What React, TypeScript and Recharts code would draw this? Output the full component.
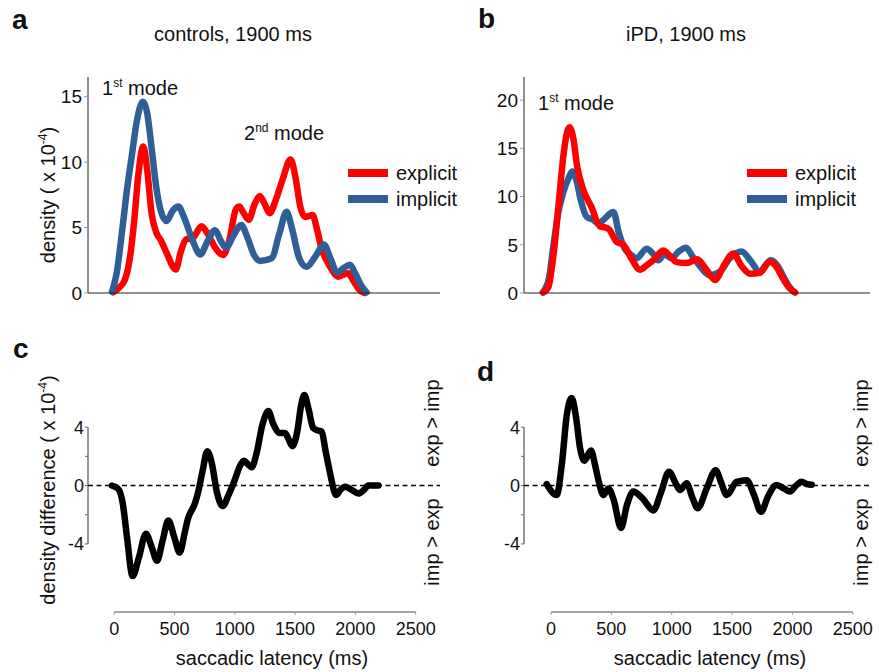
// density curves (a, b) and their differences (c, d) for saccadic latency

import { LineChart, Line, XAxis, YAxis, ReferenceLine, Legend } from "recharts";

const FONT = '"Liberation Sans", Arial, Helvetica, sans-serif';
const RED = "#ff0000";
const BLUE = "#2e5f99";

const msTicks = [0, 500, 1000, 1500, 2000, 2500];
const densTicksA = [0, 5, 10, 15];
const densTicksB = [0, 5, 10, 15, 20];
const diffTicks = [-4, -2, 0, 2, 4];

// a: controls, 1900 ms
const ctrlExpMs = [10, 60, 110, 150, 190, 225, 268, 300, 340, 380, 420, 470, 545, 590, 635, 690, 765, 820, 880, 950, 1000, 1060, 1090, 1120, 1170, 1220, 1265, 1300, 1350, 1400, 1460, 1527, 1570, 1610, 1650, 1715, 1755, 1792, 1860, 1934, 1975, 2020, 2060, 2110, 2160];
const ctrlExpVal = [0.05, 0.4, 1.0, 2.5, 5.5, 9, 11.2, 9.5, 6, 4.6, 4.0, 3.0, 1.8, 3.2, 4.1, 4.2, 5.1, 4.5, 3.5, 2.9, 3.9, 6.4, 6.6, 6.2, 5.6, 6.8, 7.4, 6.9, 6.1, 7.1, 8.7, 10.2, 8.8, 6.6, 5.8, 5.95, 4.8, 3.4, 2.1, 1.25, 1.4, 1.5, 1.0, 0.3, 0];
const ctrlImpMs = [0, 40, 90, 130, 170, 210, 265, 300, 340, 380, 420, 467, 520, 567, 620, 690, 755, 820, 880, 930, 975, 1040, 1105, 1160, 1215, 1265, 1365, 1430, 1493, 1540, 1600, 1664, 1740, 1812, 1870, 1926, 1980, 2034, 2080, 2130, 2177];
const ctrlImpVal = [0.1, 1.5, 5.0, 8.0, 10.5, 13, 14.6, 13.8, 11, 8, 6.2, 5.5, 6.3, 6.6, 5.7, 4.0, 2.95, 4.0, 4.8, 4.0, 3.45, 4.4, 5.2, 4.2, 2.9, 2.45, 2.65, 4.5, 6.2, 4.9, 2.7, 2.0, 2.8, 3.7, 2.6, 1.55, 1.9, 2.15, 1.5, 0.6, 0.05];

// b: iPD, 1900 ms
const ipdExpMs = [0, 45, 90, 145, 175, 225, 260, 290, 345, 415, 488, 530, 565, 630, 687, 760, 830, 890, 944, 1030, 1090, 1144, 1230, 1320, 1400, 1473, 1550, 1629, 1700, 1772, 1857, 1943, 2000, 2050, 2110, 2160];
const ipdExpVal = [0.05, 0.6, 4, 10.7, 14.3, 17.2, 16, 13.3, 10.7, 8.9, 6.9, 6.8, 6.6, 5.3, 5.0, 3.5, 2.4, 2.9, 3.4, 4.4, 3.8, 3.2, 3.1, 3.5, 2.4, 1.35, 2.9, 4.1, 2.8, 2.0, 2.1, 3.25, 2.7, 1.6, 0.5, 0.05];
const ipdImpMs = [0, 50, 90, 130, 170, 215, 252, 290, 320, 374, 430, 473, 510, 602, 650, 700, 760, 802, 888, 940, 987, 1040, 1100, 1160, 1225, 1280, 1330, 1430, 1515, 1600, 1700, 1780, 1857, 1900, 1949, 2010, 2050, 2100, 2150];
const ipdImpVal = [0.1, 1.5, 5, 8.3, 10.3, 11.8, 12.6, 11.5, 9.8, 7.9, 7.6, 7.2, 7.5, 8.4, 6.2, 4.6, 3.9, 3.6, 4.6, 4.1, 3.4, 4.0, 3.6, 4.3, 4.7, 3.8, 3.0, 1.85, 2.2, 3.6, 4.3, 3.3, 2.2, 2.8, 3.4, 2.8, 1.9, 0.8, 0.1];

// c: controls, explicit - implicit
const ctrlDiffMs = [-20, 30, 70, 105, 152, 205, 262, 310, 355, 400, 448, 500, 542, 585, 610, 670, 700, 730, 772, 810, 850, 899, 950, 1000, 1040, 1075, 1110, 1140, 1180, 1230, 1278, 1320, 1373, 1416, 1450, 1477, 1520, 1550, 1577, 1610, 1650, 1680, 1721, 1750, 1790, 1840, 1875, 1914, 1970, 2025, 2070, 2108, 2191];
const ctrlDiffVal = [0, -0.2, -1.2, -3.5, -6.2, -4.9, -3.3, -4.2, -5.15, -3.8, -2.4, -3.6, -4.6, -3.2, -2.3, -1.2, -0.3, 0.9, 2.35, 1.5, -0.4, -1.4, -0.6, 0.4, 1.3, 1.7, 1.45, 1.25, 2.2, 4.2, 5.1, 4.2, 3.6, 3.6, 3.1, 2.7, 3.8, 5.5, 6.2, 5.3, 3.95, 3.8, 3.7, 2.5, 0.85, -0.65, -0.3, -0.08, -0.3, -0.55, -0.3, 0, 0];

// d: iPD, explicit - implicit
const ipdDiffMs = [-36, 47, 90, 130, 171, 205, 240, 276, 331, 365, 392, 434, 475, 520, 580, 630, 682, 760, 848, 910, 978, 1030, 1069, 1124, 1170, 1215, 1290, 1364, 1410, 1455, 1538, 1621, 1680, 1740, 1800, 1870, 1930, 1980, 2030, 2077, 2120, 2160];
const ipdDiffVal = [0.1, -0.65, 1.5, 4.8, 6.0, 4.8, 2.6, 1.7, 2.4, 1.4, 0.4, -0.65, -0.2, -1.0, -2.9, -1.3, -0.4, -0.9, -1.7, -0.5, 0.95, 0.2, -0.3, 0.15, -0.8, -1.55, -0.2, 1.05, 0.2, -0.65, 0.25, 0.37, -0.6, -1.8, -0.7, 0.03, -0.2, -0.4, 0, 0.26, 0.1, 0.05];

const toPoints = (ms: number[], vals: number[]) => ms.map((m, i) => ({ ms: m, v: vals[i] }));

const DIFF_MIN = -8.66;
const DIFF_MAX = 7.23;

const legendOrder: Record<string, number> = { explicit: 0, implicit: 1 };

function LegendBox({ payload }: any) {
  const items = [...(payload || [])].sort(
    (p: any, q: any) => legendOrder[p.value] - legendOrder[q.value]
  );
  return (
    <div style={{ fontFamily: FONT }}>
      {items.map((it: any) => (
        <div key={it.value} style={{ display: "flex", alignItems: "center", height: 26 }}>
          <span style={{ display: "inline-block", width: 40, height: 8, background: it.color, marginRight: 8 }} />
          <span style={{ fontSize: 20, color: "#111" }}>{it.value}</span>
        </div>
      ))}
    </div>
  );
}

type DensityProps = {
  left: number;
  width: number;
  yWidth: number;
  xDomain: [number, number];
  yMax: number;
  yTicks: number[];
  exp: number[][];
  imp: number[][];
  redOnTop: boolean;
  legendLeft: number;
};

function DensityPanel({ left, width, yWidth, xDomain, yMax, yTicks, exp, imp, redOnTop, legendLeft }: DensityProps) {
  const red = (
    <Line key="exp" data={toPoints(exp[0], exp[1])} dataKey="v" name="explicit" type="monotone"
      stroke={RED} strokeWidth={6.5} strokeLinecap="round" dot={false} isAnimationActive={false} />
  );
  const blue = (
    <Line key="imp" data={toPoints(imp[0], imp[1])} dataKey="v" name="implicit" type="monotone"
      stroke={BLUE} strokeWidth={6.5} strokeLinecap="round" dot={false} isAnimationActive={false} />
  );
  return (
    <div style={{ position: "absolute", left, top: 0 }}>
      <LineChart width={width} height={315} margin={{ top: 77, right: 0, bottom: 0, left: 0 }}>
        <XAxis type="number" dataKey="ms" domain={xDomain} ticks={msTicks} tick={false} interval={0}
          height={22} tickSize={4} stroke="#222" tickLine={{ stroke: "#999" }} allowDuplicatedCategory={false} />
        <YAxis type="number" domain={[0, yMax]} ticks={yTicks} width={yWidth} tickSize={4} tickMargin={2}
          interval={0} stroke="#222" tickLine={{ stroke: "#999" }} tick={{ fontSize: 19, fill: "#111" }} />
        {redOnTop ? [blue, red] : [red, blue]}
        <Legend layout="vertical" align="center" verticalAlign="middle" content={<LegendBox />}
          wrapperStyle={{ left: legendLeft, top: 160, width: 120 }} />
      </LineChart>
    </div>
  );
}

type DiffProps = {
  left: number;
  width: number;
  yWidth: number;
  xDomain: [number, number];
  diff: number[][];
};

function DiffPanel({ left, width, yWidth, xDomain, diff }: DiffProps) {
  return (
    <div style={{ position: "absolute", left, top: 370 }}>
      <LineChart width={width + 9} height={302} margin={{ top: 10, right: 9, bottom: 0, left: 0 }}>
        <XAxis type="number" dataKey="ms" domain={xDomain} ticks={msTicks} height={60} interval={0}
          axisLine={false} tickSize={3} tickMargin={7} tickLine={{ stroke: "#999" }}
          tick={{ fontSize: 18, fill: "#111" }} allowDuplicatedCategory={false} />
        <YAxis type="number" domain={[DIFF_MIN, DIFF_MAX]} ticks={diffTicks} width={yWidth} interval={0}
          axisLine={false} tickSize={3} tickMargin={1} tickLine={{ stroke: "#666" }}
          tick={{ fontSize: 18, fill: "#111" }} tickFormatter={(v: number) => (v % 4 === 0 ? String(v) : "")} />
        <ReferenceLine segment={[{ x: 0, y: DIFF_MIN }, { x: 2500, y: DIFF_MIN }]} stroke="#888"
          strokeWidth={1.5} ifOverflow="visible" />
        <ReferenceLine segment={[{ x: xDomain[0], y: -4 }, { x: xDomain[0], y: 4 }]} stroke="#555"
          strokeWidth={1.2} ifOverflow="visible" />
        <ReferenceLine y={0} stroke="#000" strokeWidth={1.5} strokeDasharray="5 3.5" />
        <Line data={toPoints(diff[0], diff[1])} dataKey="v" type="monotone" stroke="#000"
          strokeWidth={6.5} strokeLinecap="round" dot={false} isAnimationActive={false} />
      </LineChart>
    </div>
  );
}

type TxtProps = {
  x: number;
  baseline: number;
  size?: number;
  bold?: boolean;
  center?: boolean;
  children: React.ReactNode;
};

function Txt({ x, baseline, size = 20, bold, center, children }: TxtProps) {
  const w = 260;
  return (
    <div
      style={{
        position: "absolute",
        left: center ? x - w / 2 : x,
        top: baseline - 0.8465 * size,
        width: center ? w : undefined,
        textAlign: center ? "center" : "left",
        fontSize: size,
        lineHeight: `${size}px`,
        fontWeight: bold ? "bold" : "normal",
        whiteSpace: "nowrap",
        color: "#111",
      }}
    >
      {children}
    </div>
  );
}

function VTxt({ cx, cy, children }: { cx: number; cy: number; children: React.ReactNode }) {
  const w = 300;
  return (
    <div
      style={{
        position: "absolute",
        left: cx - w / 2,
        top: cy - 10,
        width: w,
        height: 20,
        lineHeight: "20px",
        fontSize: 20,
        textAlign: "center",
        whiteSpace: "nowrap",
        transform: "rotate(-90deg)",
        color: "#111",
      }}
    >
      {children}
    </div>
  );
}

const sup = (s: string) => (
  <span style={{ fontSize: 12, position: "relative", top: -8 }}>{s}</span>
);

export default function App() {
  return (
    <div style={{ position: "absolute", left: 0, top: 0, width: 879, height: 672, background: "#fff", fontFamily: FONT }}>
      <DensityPanel left={0} width={440} yWidth={88} xDomain={[-205, 2805]} yMax={16.5} yTicks={densTicksA}
        exp={[ctrlExpMs, ctrlExpVal]} imp={[ctrlImpMs, ctrlImpVal]} redOnTop={false} legendLeft={348} />
      <DensityPanel left={440} width={430} yWidth={84} xDomain={[-163, 2800]} yMax={22.4} yTicks={densTicksB}
        exp={[ipdExpMs, ipdExpVal]} imp={[ipdImpMs, ipdImpVal]} redOnTop={true} legendLeft={307} />
      <DiffPanel left={0} width={440} yWidth={88} xDomain={[-218, 2702]} diff={[ctrlDiffMs, ctrlDiffVal]} />
      <DiffPanel left={440} width={430} yWidth={84} xDomain={[-224, 2643]} diff={[ipdDiffMs, ipdDiffVal]} />

      <Txt x={12} baseline={30} size={28} bold>a</Txt>
      <Txt x={478} baseline={29} size={28} bold>b</Txt>
      <Txt x={13} baseline={359} size={28} bold>c</Txt>
      <Txt x={477} baseline={382} size={28} bold>d</Txt>

      <Txt x={233} baseline={41} center>controls, 1900 ms</Txt>
      <Txt x={686} baseline={41} center>iPD, 1900 ms</Txt>

      <Txt x={102} baseline={95}>1{sup("st")} mode</Txt>
      <Txt x={244} baseline={140}>2{sup("nd")} mode</Txt>
      <Txt x={538} baseline={110}>1{sup("st")} mode</Txt>

      <VTxt cx={48} cy={195}>density ( x 10{sup("-4")})</VTxt>
      <VTxt cx={48} cy={490}>density difference ( x 10{sup("-4")})</VTxt>

      <VTxt cx={432} cy={423}>exp &gt; imp</VTxt>
      <VTxt cx={432} cy={542}>imp &gt; exp</VTxt>
      <VTxt cx={861} cy={423}>exp &gt; imp</VTxt>
      <VTxt cx={861} cy={542}>imp &gt; exp</VTxt>

      <Txt x={272} baseline={665} center>saccadic latency (ms)</Txt>
      <Txt x={710} baseline={665} center>saccadic latency (ms)</Txt>
    </div>
  );
}
